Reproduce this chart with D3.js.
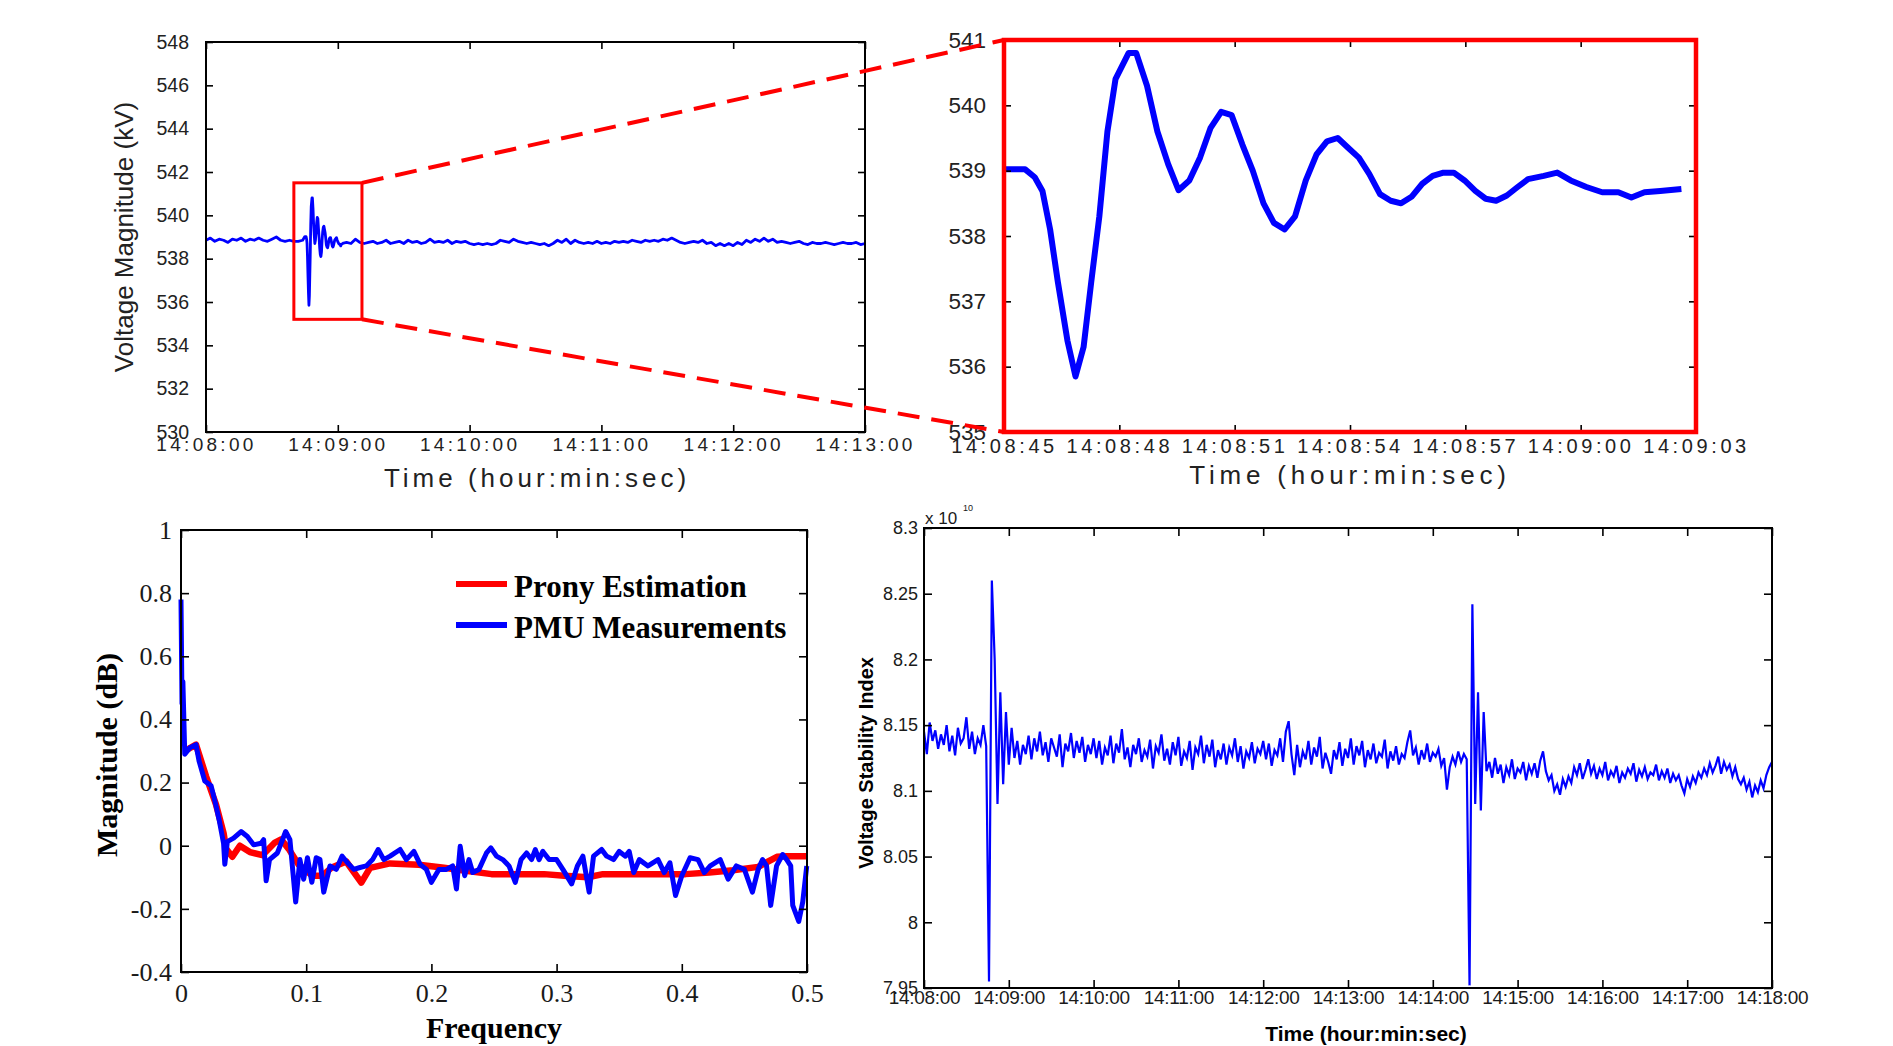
<!DOCTYPE html>
<html><head><meta charset="utf-8">
<script src="https://cdn.jsdelivr.net/npm/d3@7"></script>
<style>
html,body{margin:0;padding:0;background:#fff;}
svg{display:block;}
</style></head><body>
<svg id="chart" width="1893" height="1046"></svg>
<script>
// ================= DATA =================
// --- Top-left: voltage magnitude 14:08:00 - 14:13:00 (seconds after 14:08:00) ---
const tlTickSeconds = [0, 60, 120, 180, 240, 300];
const tlTickLabels = ["14:08:00", "14:09:00", "14:10:00", "14:11:00", "14:12:00", "14:13:00"];
const tlYTicks = [530, 532, 534, 536, 538, 540, 542, 544, 546, 548];
const tlStepSeconds = 2;
// one value every 2 s; null = covered by the detailed event trace below
const tlValues = [
  538.85, 538.95, 538.8, 538.9, 538.85, 538.75,
  538.9, 538.85, 538.95, 538.8, 538.9, 538.85, 538.95, 538.85, 538.8, 538.9,
  539.0, 538.85, 538.8, 538.85, 538.8, 538.8,
  538.85,
  null, null, null, null, null, null, null, null, null,
  538.75, 538.7, 538.9, 538.75, 538.7, 538.75, 538.8, 538.7, 538.75, 538.85, 538.7, 538.75,
  538.8, 538.7, 538.85, 538.75, 538.8, 538.7, 538.75, 538.9, 538.75, 538.8, 538.75, 538.85, 538.7, 538.8, 538.75, 538.8,
  538.7, 538.65, 538.7, 538.65, 538.7, 538.65, 538.7, 538.85, 538.8, 538.75, 538.9, 538.8, 538.75,
  538.7, 538.75, 538.7, 538.65, 538.7, 538.6, 538.7, 538.85, 538.75, 538.9, 538.7, 538.85, 538.75, 538.7,
  538.75, 538.7, 538.8, 538.7, 538.75, 538.7, 538.8, 538.75, 538.8, 538.75, 538.85, 538.8, 538.75, 538.85, 538.8, 538.85, 538.8, 538.9, 538.85, 538.95,
  538.85, 538.75, 538.7, 538.75, 538.8, 538.75, 538.85, 538.7, 538.75, 538.6, 538.7, 538.6,
  538.7, 538.6, 538.75, 538.65, 538.85, 538.75, 538.9, 538.8, 538.95, 538.8, 538.9, 538.75,
  538.8, 538.75, 538.7, 538.75, 538.8, 538.7, 538.65, 538.75, 538.7, 538.7, 538.75, 538.7, 538.65, 538.7, 538.75, 538.7, 538.7, 538.75, 538.65, 538.7
];
// --- Event trace (zoom, top-right) seconds after 14:08:00 ---
const zoomSeconds = [45.0, 45.55, 45.8, 46.0, 46.2, 46.4, 46.65, 46.86, 47.07, 47.27, 47.48, 47.69, 47.9, 48.24, 48.44,
  48.72, 48.99, 49.27, 49.54, 49.82, 50.1, 50.37, 50.65, 50.92, 51.2, 51.47, 51.75, 52.02, 52.3, 52.57,
  52.85, 53.13, 53.4, 53.68, 53.95, 54.23, 54.5, 54.78, 55.06, 55.33, 55.6, 55.88, 56.15, 56.43, 56.7,
  56.98, 57.26, 57.53, 57.8, 58.08, 58.36, 58.63, 59.04, 59.39, 59.74, 60.15, 60.56, 60.98, 61.32, 61.66, 62.07, 62.62];
const zoomValues = [539.02, 539.02, 538.9, 538.69, 538.1, 537.3, 536.4, 535.85, 536.3, 537.3, 538.3, 539.6, 540.4, 540.8, 540.8,
  540.3, 539.6, 539.1, 538.7, 538.85, 539.2, 539.65, 539.9, 539.85, 539.4, 539.0, 538.5, 538.2, 538.1, 538.3,
  538.85, 539.25, 539.45, 539.5, 539.35, 539.2, 538.95, 538.64, 538.54, 538.5, 538.6, 538.8, 538.92, 538.97, 538.97,
  538.85, 538.69, 538.57, 538.54, 538.62, 538.75, 538.87, 538.92, 538.97, 538.85, 538.75, 538.67, 538.67, 538.59, 538.67, 538.69, 538.72];
const zoomBoxSeconds = [40, 71];
const zoomBoxKV = [535.2, 541.5];
const trDomainSeconds = [45, 63];
const trTickSeconds = [45, 48, 51, 54, 57, 60, 63];
const trTickLabels = ["14:08:45", "14:08:48", "14:08:51", "14:08:54", "14:08:57", "14:09:00", "14:09:03"];
const trYTicks = [535, 536, 537, 538, 539, 540, 541];

// --- Bottom-left: frequency response ---
const blXTicks = [0, 0.1, 0.2, 0.3, 0.4, 0.5];
const blXTickLabels = ["0", "0.1", "0.2", "0.3", "0.4", "0.5"];
const blYTicks = [-0.4, -0.2, 0, 0.2, 0.4, 0.6, 0.8, 1];
const blYTickLabels = ["-0.4", "-0.2", "0", "0.2", "0.4", "0.6", "0.8", "1"];
const pronyFreq = [0.003, 0.012, 0.02, 0.028, 0.034, 0.036, 0.041, 0.047, 0.055, 0.065, 0.075, 0.08, 0.086, 0.094, 0.105,
  0.113, 0.12, 0.132, 0.144, 0.151, 0.167, 0.19, 0.21, 0.229, 0.248, 0.268, 0.29, 0.306, 0.325, 0.337,
  0.364, 0.383, 0.403, 0.422, 0.441, 0.461, 0.476, 0.484, 0.5];
const pronyMag = [0.30, 0.32, 0.22, 0.13, 0.04, -0.01, -0.035, 0.0, -0.02, -0.03, 0.01, 0.02, -0.01, -0.06, -0.095,
  -0.095, -0.07, -0.05, -0.117, -0.07, -0.056, -0.06, -0.07, -0.08, -0.09, -0.09, -0.09, -0.095, -0.1, -0.09,
  -0.09, -0.09, -0.09, -0.085, -0.078, -0.067, -0.035, -0.033, -0.033];
const pmuFreq = [0, 0.0008, 0.0015, 0.003, 0.007, 0.012, 0.0145, 0.019, 0.024, 0.027, 0.0305, 0.034, 0.035, 0.037, 0.042,
  0.048, 0.053, 0.058, 0.064, 0.066, 0.068, 0.0707, 0.077, 0.0836, 0.087, 0.0916, 0.095, 0.098, 0.101, 0.1045,
  0.108, 0.111, 0.114, 0.119, 0.124, 0.1286, 0.133, 0.138, 0.143, 0.148, 0.153, 0.1575, 0.162, 0.167, 0.175,
  0.18, 0.186, 0.191, 0.196, 0.2, 0.206, 0.212, 0.217, 0.22, 0.223, 0.2266, 0.23, 0.233, 0.238, 0.244,
  0.2475, 0.252, 0.257, 0.262, 0.267, 0.2716, 0.276, 0.28, 0.283, 0.286, 0.289, 0.294, 0.3, 0.305, 0.312,
  0.3166, 0.321, 0.326, 0.3295, 0.336, 0.34, 0.3455, 0.35, 0.355, 0.358, 0.3616, 0.366, 0.373, 0.381, 0.386,
  0.3905, 0.395, 0.4, 0.4066, 0.413, 0.418, 0.4227, 0.4307, 0.437, 0.4436, 0.45, 0.4564, 0.461, 0.4645, 0.4677,
  0.471, 0.4757, 0.4806, 0.4838, 0.487, 0.4886, 0.4934, 0.4966, 0.4998];
const pmuMag = [0.78, 0.45, 0.52, 0.29, 0.31, 0.32, 0.267, 0.205, 0.19, 0.143, 0.081, 0.008, -0.059, 0.013, 0.024,
  0.045, 0.029, 0.003, 0.008, 0.019, -0.111, -0.044, -0.023, 0.045, 0.019, -0.178, -0.044, -0.106, -0.038, -0.116,
  -0.038, -0.044, -0.147, -0.064, -0.075, -0.033, -0.054, -0.075, -0.069, -0.064, -0.044, -0.012, -0.044, -0.033, -0.012,
  -0.044, -0.018, -0.059, -0.075, -0.116, -0.075, -0.075, -0.064, -0.137, -0.002, -0.095, -0.044, -0.085, -0.075, -0.023,
  -0.007, -0.033, -0.044, -0.064, -0.116, -0.044, -0.023, -0.044, -0.012, -0.044, -0.018, -0.044, -0.044, -0.075, -0.121,
  -0.064, -0.033, -0.147, -0.033, -0.012, -0.033, -0.044, -0.018, -0.033, -0.018, -0.085, -0.044, -0.064, -0.044, -0.085,
  -0.054, -0.158, -0.095, -0.038, -0.044, -0.085, -0.064, -0.044, -0.106, -0.064, -0.075, -0.147, -0.075, -0.044, -0.064,
  -0.189, -0.064, -0.028, -0.044, -0.064, -0.189, -0.24, -0.178, -0.064];
const legendLabels = ["Prony Estimation", "PMU Measurements"];

// --- Bottom-right: voltage stability index (x 10^10), one value every 2 s from 14:08:00 ---
const brTickSeconds = [0, 60, 120, 180, 240, 300, 360, 420, 480, 540, 600];
const brTickLabels = ["14:08:00", "14:09:00", "14:10:00", "14:11:00", "14:12:00", "14:13:00", "14:14:00", "14:15:00", "14:16:00", "14:17:00", "14:18:00"];
const brYTicks = [7.95, 8, 8.05, 8.1, 8.15, 8.2, 8.25, 8.3];
const brYTickLabels = ["7.95", "8", "8.05", "8.1", "8.15", "8.2", "8.25", "8.3"];
const brStepSeconds = 2;
const brValues = [
  8.145, 8.128, 8.152, 8.138, 8.146, 8.132, 8.143, 8.135, 8.15, 8.13, 8.142, 8.127, 8.148, 8.136, 8.14, 8.156, 8.132, 8.145, 8.128, 8.14, 8.135, 8.15, 8.134,
  7.955, 8.26, 8.2, 8.09, 8.175, 8.105, 8.16, 8.12,
  8.148, 8.125, 8.138, 8.12, 8.135, 8.128, 8.142, 8.124, 8.14, 8.13, 8.145, 8.127, 8.137, 8.122, 8.14,
  8.133, 8.126, 8.143, 8.118, 8.136, 8.13, 8.144, 8.125, 8.138, 8.129, 8.141, 8.122, 8.135, 8.128, 8.14,
  8.125, 8.138, 8.12, 8.133, 8.127, 8.142, 8.121, 8.136, 8.129, 8.147, 8.124, 8.133, 8.118, 8.135, 8.128,
  8.14, 8.122, 8.131, 8.126, 8.139, 8.117, 8.134, 8.129, 8.143, 8.123, 8.132, 8.12, 8.137, 8.127, 8.141,
  8.119, 8.13, 8.125, 8.138, 8.116, 8.133, 8.128, 8.142, 8.121, 8.135, 8.126, 8.139, 8.118, 8.131, 8.124,
  8.136, 8.12, 8.133, 8.127, 8.14, 8.122, 8.134, 8.117, 8.13, 8.125, 8.137, 8.121, 8.132, 8.128, 8.138,
  8.124, 8.136, 8.119, 8.131, 8.127, 8.14, 8.122, 8.145, 8.153,
  8.128, 8.112, 8.135, 8.118, 8.13, 8.124, 8.138, 8.12, 8.133, 8.126, 8.141, 8.117, 8.129, 8.122, 8.113, 8.131,
  8.124, 8.137, 8.119, 8.132, 8.125, 8.14, 8.12, 8.134, 8.127, 8.138, 8.118, 8.131, 8.124, 8.136, 8.121,
  8.129, 8.126, 8.139, 8.117, 8.13, 8.123, 8.134, 8.12, 8.128, 8.125, 8.137, 8.146,
  8.127, 8.133, 8.12, 8.131, 8.124, 8.136, 8.122, 8.129, 8.126, 8.132, 8.119, 8.125, 8.101,
  8.118, 8.126, 8.12, 8.13, 8.122, 8.128, 8.124,
  7.952, 8.242, 8.09, 8.175, 8.085, 8.16, 8.115,
  8.122, 8.11, 8.125, 8.113, 8.12, 8.106, 8.118, 8.112, 8.124, 8.109, 8.117, 8.114, 8.122, 8.108, 8.119, 8.113, 8.121, 8.11, 8.123,
  8.13,
  8.115, 8.108, 8.112, 8.1, 8.105, 8.097, 8.109, 8.103, 8.111, 8.106, 8.118, 8.112, 8.121, 8.109, 8.116, 8.124,
  8.113, 8.119, 8.109, 8.117, 8.112, 8.122, 8.108, 8.115, 8.111, 8.119, 8.106, 8.114, 8.11, 8.117, 8.113,
  8.121, 8.107, 8.116, 8.111, 8.118, 8.109, 8.114, 8.112, 8.12, 8.108, 8.115, 8.11, 8.117, 8.106, 8.113,
  8.108, 8.112, 8.104, 8.098, 8.109, 8.103, 8.111, 8.106, 8.114, 8.11,
  8.117, 8.112, 8.121, 8.114, 8.119, 8.126, 8.113, 8.122, 8.116, 8.12, 8.111, 8.118, 8.109,
  8.105, 8.11, 8.101, 8.107, 8.095, 8.104, 8.099, 8.108, 8.102, 8.112, 8.118, 8.122
];

// ================= DRAWING =================
const SANS = '"Liberation Sans", Arial, Helvetica, sans-serif';
const SERIF = '"Liberation Serif", "Times New Roman", Times, serif';
const BLUE = "#0000ff", RED = "#ff0000";
const svg = d3.select("#chart");
svg.append("rect").attr("width", 1893).attr("height", 1046).attr("fill", "#fff");

function drawAxes(g, x, y, c) {
  const [x0, x1] = x.range(), [y0, y1] = y.range();
  const mk = (axisFn, scale, vals, labels, pad, tr) => {
    const a = axisFn(scale).tickValues(vals).tickSizeInner(-c.tick).tickSizeOuter(0).tickPadding(pad)
      .tickFormat((d, i) => labels ? labels[i] : "");
    const gg = g.append("g").attr("transform", tr).call(a);
    gg.select(".domain").remove();
    gg.selectAll(".tick line").attr("stroke", "#000").attr("stroke-width", c.tickWidth || 1.6);
    return gg;
  };
  const gb = mk(d3.axisBottom, x, c.xTicks, c.xLabels, c.xPad, `translate(0,${y0})`);
  mk(d3.axisTop, x, c.xTicks, null, 0, `translate(0,${y1})`);
  const gl = mk(d3.axisLeft, y, c.yTicks, c.yLabels, c.yPad, `translate(${x0},0)`);
  mk(d3.axisRight, y, c.yTicks, null, 0, `translate(${x1},0)`);
  gb.selectAll(".tick text").attr("font-family", c.font).attr("font-size", c.xSize).attr("fill", c.color)
    .style("letter-spacing", (c.xLS || 0) + "px");
  gl.selectAll(".tick text").attr("font-family", c.font).attr("font-size", c.ySize).attr("fill", c.color)
    .style("letter-spacing", (c.yLS || 0) + "px");
  if (c.box !== false) {
    g.append("rect").attr("x", x0).attr("y", y1).attr("width", x1 - x0).attr("height", y0 - y1)
      .attr("fill", "none").attr("stroke", c.boxColor || "#000").attr("stroke-width", c.boxWidth || 2);
  }
}
function label(g, txt, x, y, o) {
  const t = g.append("text").attr("transform", `translate(${x},${y})` + (o.rot ? " rotate(-90)" : ""))
    .attr("text-anchor", o.anchor || "middle").attr("font-family", o.font).attr("font-size", o.size)
    .attr("font-weight", o.weight || "normal").attr("fill", o.color || "#000")
    .style("letter-spacing", (o.ls || 0) + "px").text(txt);
  return t;
}

// ---------- Top-left ----------
const gTL = svg.append("g");
const xTL = d3.scaleLinear().domain([0, 300]).range([206, 865]);
const yTL = d3.scaleLinear().domain([530, 548]).range([432, 42]);
const tlPoints = tlValues.map((v, i) => ({ t: i * tlStepSeconds, v }))
  .filter(d => d.v !== null)
  .concat(zoomSeconds.map((t, i) => ({ t, v: zoomValues[i] })))
  .sort((a, b) => a.t - b.t);
gTL.append("path").datum(tlPoints).attr("fill", "none").attr("stroke", BLUE).attr("stroke-width", 2.8)
  .attr("stroke-linejoin", "round")
  .attr("d", d3.line().x(d => xTL(d.t)).y(d => yTL(d.v)));
drawAxes(gTL, xTL, yTL, { xTicks: tlTickSeconds, xLabels: tlTickLabels, yTicks: tlYTicks, yLabels: tlYTicks.map(String),
  tick: 7, xPad: 6, yPad: 17, font: SANS, xSize: 19, ySize: 19.5, xLS: 3.3, color: "#222" });
label(gTL, "Time (hour:min:sec)", 537, 487, { font: SANS, size: 26, ls: 4, color: "#222" });
label(gTL, "Voltage Magnitude (kV)", 133, 237, { font: SANS, size: 26, rot: true, color: "#222" });

// zoom box on TL
gTL.append("rect").attr("x", xTL(zoomBoxSeconds[0])).attr("y", yTL(zoomBoxKV[1]))
  .attr("width", xTL(zoomBoxSeconds[1]) - xTL(zoomBoxSeconds[0])).attr("height", yTL(zoomBoxKV[0]) - yTL(zoomBoxKV[1]))
  .attr("fill", "none").attr("stroke", RED).attr("stroke-width", 3);

// ---------- Top-right ----------
const gTR = svg.append("g");
const xTR = d3.scaleLinear().domain(trDomainSeconds).range([1004, 1696]);
const yTR = d3.scaleLinear().domain([535, 541]).range([432, 40]);
// dashed connectors
const connectors = [
  [[xTL(zoomBoxSeconds[1]), yTL(zoomBoxKV[1])], [xTR.range()[0], yTR.range()[1]]],
  [[xTL(zoomBoxSeconds[1]), yTL(zoomBoxKV[0])], [xTR.range()[0], yTR.range()[0]]]
];
svg.append("g").selectAll("line").data(connectors).join("line")
  .attr("x1", d => d[0][0]).attr("y1", d => d[0][1]).attr("x2", d => d[1][0]).attr("y2", d => d[1][1])
  .attr("stroke", RED).attr("stroke-width", 4).attr("stroke-dasharray", "22,12");
gTR.append("path").datum(zoomSeconds.map((t, i) => ({ t, v: zoomValues[i] })))
  .attr("fill", "none").attr("stroke", BLUE).attr("stroke-width", 6).attr("stroke-linejoin", "round")
  .attr("d", d3.line().x(d => xTR(d.t)).y(d => yTR(d.v)));
drawAxes(gTR, xTR, yTR, { xTicks: trTickSeconds, xLabels: trTickLabels, yTicks: trYTicks, yLabels: trYTicks.map(String),
  tick: 7, xPad: 7, yPad: 18, font: SANS, xSize: 20, ySize: 22.5, xLS: 3.6, color: "#222", boxColor: RED, boxWidth: 4.5 });
label(gTR, "Time (hour:min:sec)", 1350, 484, { font: SANS, size: 26, ls: 4.8, color: "#222" });

// ---------- Bottom-left ----------
const gBL = svg.append("g");
const xBL = d3.scaleLinear().domain([0, 0.5]).range([181, 807]);
const yBL = d3.scaleLinear().domain([-0.4, 1]).range([972, 530]);
const lineBL = d3.line().x(d => xBL(d[0])).y(d => yBL(d[1]));
gBL.append("path").datum(pronyFreq.map((f, i) => [f, pronyMag[i]])).attr("fill", "none").attr("stroke", RED)
  .attr("stroke-width", 6.5).attr("stroke-linejoin", "round").attr("d", lineBL);
gBL.append("path").datum(pmuFreq.map((f, i) => [f, pmuMag[i]])).attr("fill", "none").attr("stroke", BLUE)
  .attr("stroke-width", 5).attr("stroke-linejoin", "round").attr("d", lineBL);
drawAxes(gBL, xBL, yBL, { xTicks: blXTicks, xLabels: blXTickLabels, yTicks: blYTicks, yLabels: blYTickLabels,
  tick: 8, xPad: 12, yPad: 9, font: SERIF, xSize: 26, ySize: 26, color: "#1a1a1a" });
label(gBL, "Frequency", 494, 1038, { font: SERIF, size: 30, weight: "bold" });
label(gBL, "Magnitude (dB)", 117, 755, { font: SERIF, size: 30, weight: "bold", rot: true });
const legColors = [RED, BLUE];
const legY = [584, 625];
legendLabels.forEach((txt, i) => {
  gBL.append("line").attr("x1", 456).attr("x2", 507).attr("y1", legY[i]).attr("y2", legY[i])
    .attr("stroke", legColors[i]).attr("stroke-width", 6);
  label(gBL, txt, 514, legY[i] + 13, { font: SERIF, size: 31, weight: "bold", anchor: "start" });
});

// ---------- Bottom-right ----------
const gBR = svg.append("g");
const xBR = d3.scaleLinear().domain([0, 600]).range([924, 1772]);
const yBR = d3.scaleLinear().domain([7.95, 8.3]).range([988, 528]);
gBR.append("path").datum(brValues.map((v, i) => [i * brStepSeconds, v])).attr("fill", "none").attr("stroke", BLUE)
  .attr("stroke-width", 2.2).attr("stroke-linejoin", "miter")
  .attr("d", d3.line().x(d => xBR(d[0])).y(d => yBR(d[1])));
drawAxes(gBR, xBR, yBR, { xTicks: brTickSeconds, xLabels: brTickLabels, yTicks: brYTicks, yLabels: brYTickLabels,
  tick: 8, xPad: 2, yPad: 6, font: SANS, xSize: 19, ySize: 18, xLS: -0.3, color: "#1a1a1a" });
label(gBR, "x 10", 925, 524, { font: SANS, size: 17, anchor: "start", color: "#1a1a1a" });
label(gBR, "10", 963, 511, { font: SANS, size: 9, anchor: "start", color: "#1a1a1a" });
label(gBR, "Time (hour:min:sec)", 1366, 1041, { font: SANS, size: 21, weight: "bold" });
label(gBR, "Voltage Stability Index", 873, 763, { font: SANS, size: 20, weight: "bold", rot: true });
</script>
</body></html>
